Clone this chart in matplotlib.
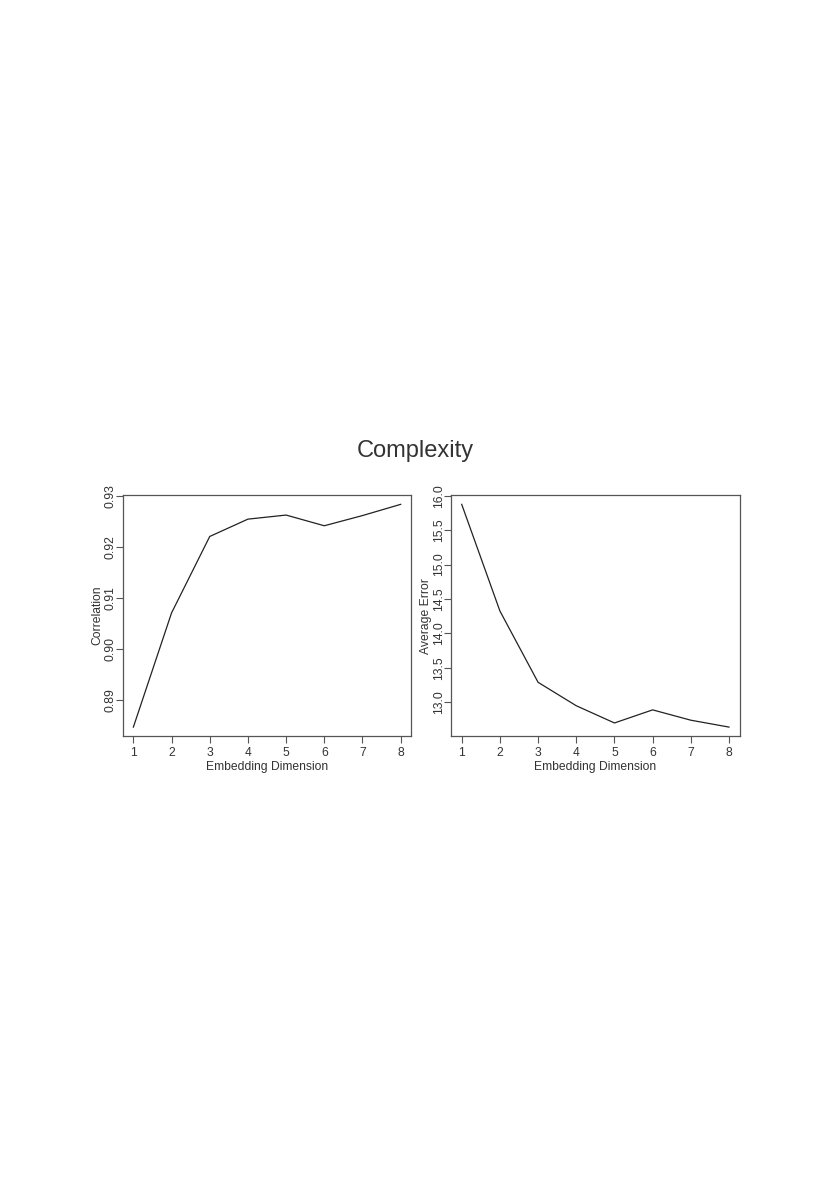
import matplotlib
matplotlib.use("Agg")
import matplotlib.pyplot as plt
import numpy as np

# Embedding dimensions and the two measured curves
dims = [1, 2, 3, 4, 5, 6, 7, 8]
correlation = [0.8846, 0.9070, 0.9220, 0.9254, 0.9262, 0.9241, 0.9261, 0.9283]
avg_error = [15.874, 14.326, 13.29, 12.95, 12.70, 12.89, 12.74, 12.64]

corr_ticks = [0.89, 0.90, 0.91, 0.92, 0.93]
err_ticks = [13.0, 13.5, 14.0, 14.5, 15.0, 15.5, 16.0]

plt.rcParams['font.family'] = ['Liberation Sans', 'DejaVu Sans']
text_col = '#333333'
frame_col = '#555555'
fs = 8.7


def r_limits(vals):
    # R style axis padding of 4% on each side
    lo, hi = min(vals), max(vals)
    pad = 0.04 * (hi - lo)
    return lo - pad, hi + pad


def style_axes(ax, yvals, yticks, ylabel, fmt):
    ax.plot(dims, yvals, color='#222222', linewidth=0.9)
    ax.set_xlim(*r_limits(dims))
    ax.set_ylim(*r_limits(yvals))
    ax.set_xticks(dims)
    ax.set_yticks(yticks)
    ax.set_yticklabels([fmt.format(t) for t in yticks], rotation=90, va='center')
    ax.tick_params(axis='both', length=5, width=0.8, color=frame_col,
                   labelsize=fs, labelcolor=text_col)
    ax.tick_params(axis='x', pad=3)
    ax.tick_params(axis='y', pad=-0.5)
    for sp in ax.spines.values():
        sp.set_color(frame_col)
        sp.set_linewidth(0.9)
    ax.set_xlabel('Embedding Dimension', fontsize=fs, color=text_col, labelpad=1)
    ax.set_ylabel(ylabel, fontsize=fs, color=text_col, labelpad=0.5)


fig = plt.figure(figsize=(8.3, 11.95), dpi=100)

ax1 = fig.add_axes([0.1478, 0.3841, 0.3478, 0.2013])
style_axes(ax1, correlation, corr_ticks, 'Correlation', '{:.2f}')

ax2 = fig.add_axes([0.5434, 0.3841, 0.3478, 0.2013])
style_axes(ax2, avg_error, err_ticks, 'Average Error', '{:.1f}')

fig.text(0.5, 1 - 451 / 1195, 'Complexity', ha='center', va='center',
         fontsize=17, color=text_col)

fig.savefig('out.png', dpi=100)
